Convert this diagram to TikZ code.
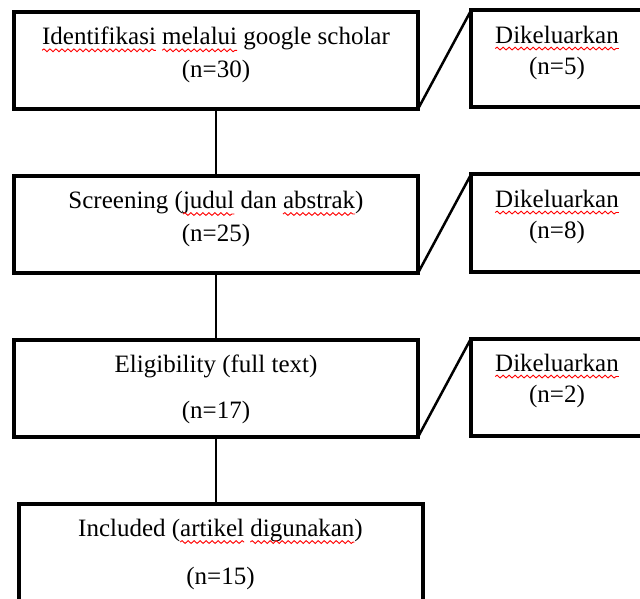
\documentclass[tikz,border=0pt]{standalone}
\usepackage{fontspec}
\setmainfont{Liberation Serif}
\usetikzlibrary{positioning, decorations.pathmorphing}
\tikzset{
box/.style={draw, line width=4pt, minimum width=404pt, minimum height=97pt, inner sep=0pt, outer sep=0pt}, % steps on the left
outbox/.style={box, minimum width=172pt}, % excluded records on the right
txt/.style={align=center, inner sep=0pt, font=\fontsize{25}{33}\selectfont},
link/.style={line width=2.5pt},
squiggle/.style={red, line width=0.9pt, decorate, decoration={snake, amplitude=1.4pt, segment length=6pt}},
}
% red wavy underline of the spell checker
\newcommand{\typo}[1]{\tikz[baseline=(w.base)]{\node[inner sep=0pt, outer sep=0pt] (w) {#1}; \draw[squiggle, overlay] ([yshift=-5.5pt]w.base west) -- ([yshift=-5.5pt]w.base east);}}

\begin{document}
\begin{tikzpicture}[x=1pt, y=-1pt, node distance=67pt]
    \useasboundingbox (0,0) rectangle (640,599);
    \node[box] (ident) at (216,60.5) {};
    \node[box, below=of ident] (screen) {};
    \node[box, below=of screen] (elig) {};
    \node[box, below=of elig, xshift=4.5pt] (incl) {};
    \node[outbox, right=53pt of ident, yshift=1.5pt] (out1) {};
    \node[outbox, right=53pt of screen, yshift=1.5pt] (out2) {};
    \node[outbox, right=53pt of elig, yshift=1.5pt] (out3) {};
    \node[txt, below=15pt of ident.north] (identtxt) {\typo{Identifikasi} \typo{melalui} google scholar\\(n=30)};
    \node[txt, below=15pt of screen.north] (screentxt) {Screening (\typo{judul} dan \typo{abstrak})\\(n=25)};
    \node[txt, below=15pt of elig.north] (eligtxt) {Eligibility (full text)\\[13pt](n=17)};
    \node[txt, below=15pt of incl.north] (incltxt) {Included (\typo{artikel} \typo{digunakan})\\[15pt](n=15)};
    \node[txt, below=15pt of out1.north] (out1txt) {\typo{Dikeluarkan}\\[-2pt](n=5)};
    \node[txt, below=15pt of out2.north] (out2txt) {\typo{Dikeluarkan}\\[-2pt](n=8)};
    \node[txt, below=15pt of out3.north] (out3txt) {\typo{Dikeluarkan}\\[-2pt](n=2)};
    \draw[link] (ident.south) -- (screen.north);
    \draw[link] (screen.south) -- (elig.north);
    \draw[link] (elig.south) -- (elig.south |- incl.north);
    \draw[link] (ident.south east) -- (out1.north west)
    (screen.south east) -- (out2.north west)
    (elig.south east) -- (out3.north west);
  \end{tikzpicture}
\end{document}
